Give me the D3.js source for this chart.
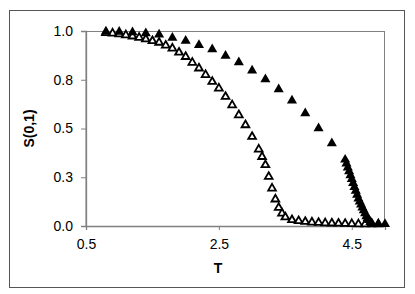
<!DOCTYPE html>
<html>
<head>
<meta charset="utf-8">
<script src="https://cdn.jsdelivr.net/npm/d3@7"></script>
<style>
  body { margin: 0; background: #fff; }
  text { font-family: "Liberation Sans", Arial, sans-serif; }
</style>
</head>
<body>
<div id="container"></div>
<script>
/**
 * DATA
 * */
const openT = [0.8, 0.9, 1.0, 1.1, 1.2, 1.3, 1.4, 1.5, 1.6, 1.7, 1.8, 1.9, 2.0, 2.1, 2.2, 2.3, 2.4,
  2.5, 2.6, 2.7, 2.8, 2.9, 3.0, 3.1, 3.15, 3.2, 3.25, 3.3, 3.35, 3.4, 3.45, 3.5,
  3.6, 3.7, 3.8, 3.9, 4.0, 4.1, 4.2, 4.3, 4.4, 4.5, 4.6, 4.7, 4.8, 4.9];
const openS = [0.99, 0.988, 0.984, 0.979, 0.973, 0.966, 0.958, 0.949, 0.941, 0.926, 0.911, 0.89, 0.868, 0.838, 0.809, 0.775, 0.74,
  0.706, 0.663, 0.62, 0.569, 0.518, 0.458, 0.393, 0.355, 0.313, 0.253, 0.193, 0.137, 0.094, 0.065, 0.045,
  0.031, 0.026, 0.022, 0.019, 0.017, 0.015, 0.014, 0.013, 0.012, 0.011, 0.01, 0.01, 0.01, 0.01];

const solidT = [0.8, 1.0, 1.2, 1.4, 1.6, 1.8, 2.0, 2.2, 2.4, 2.6, 2.8, 3.0, 3.2, 3.4, 3.6, 3.8, 4.0, 4.2,
  4.40, 4.42, 4.44, 4.46, 4.48, 4.50, 4.52, 4.54, 4.56, 4.58, 4.60, 4.62, 4.64, 4.66, 4.68, 4.70,
  4.72, 4.74, 4.76, 4.78, 4.80, 4.9, 5.0];
const solidS = [0.997, 0.996, 0.993, 0.988, 0.982, 0.965, 0.95, 0.928, 0.906, 0.873, 0.839, 0.797, 0.752, 0.701, 0.643, 0.578, 0.501, 0.424,
  0.34, 0.32, 0.30, 0.28, 0.26, 0.24, 0.22, 0.20, 0.18, 0.16, 0.14, 0.125, 0.11, 0.095, 0.08, 0.065,
  0.05, 0.04, 0.03, 0.02, 0.015, 0.01, 0.01];

const xTicks = [0.5, 2.5, 4.5];
const yTicks = [0, 0.25, 0.5, 0.75, 1.0];

/**
 * LAYOUT
 * */
const width = 415, height = 294,
  margin = { top: 31, bottom: 68, left: 86, right: 30 };

const svg = d3.select("#container")
  .append("svg")
  .attr("width", width)
  .attr("height", height);

// outer frame
svg.append("rect")
  .attr("x", 9.5).attr("y", 10.5)
  .attr("width", 395).attr("height", 277)
  .attr("fill", "none")
  .attr("stroke", "#555")
  .attr("stroke-width", 1);

const xScale = d3.scaleLinear()
  .domain([0.5, 5.0])
  .range([margin.left, width - margin.right]);

const yScale = d3.scaleLinear()
  .domain([0, 1])
  .range([height - margin.bottom, margin.top]);

// plot area border (top/right)
svg.append("rect")
  .attr("x", xScale(0.5)).attr("y", yScale(1) + 0.5)
  .attr("width", xScale(5.0) - xScale(0.5) - 0.5)
  .attr("height", yScale(0) - yScale(1))
  .attr("fill", "none")
  .attr("stroke", "#808080");

const xAxis = svg.append("g")
  .attr("transform", `translate(0, ${yScale(0)})`)
  .call(d3.axisBottom(xScale).tickValues(xTicks).tickFormat(d3.format(".1f")).tickSize(4).tickPadding(9));

const yAxis = svg.append("g")
  .attr("transform", `translate(${xScale(0.5)}, 0)`)
  .call(d3.axisLeft(yScale).tickValues(yTicks).tickFormat(d => d3.format(".1f")(d + 1e-9)).tickSize(5).tickPadding(8));

[xAxis, yAxis].forEach(g => {
  g.select(".domain").attr("stroke", "#808080").attr("stroke-width", 1.3);
  g.selectAll(".tick line").attr("stroke", "#808080");
  g.selectAll(".tick text")
    .attr("fill", "#000")
    .style("font-size", "14px")
    .style("font-family", "'Liberation Sans', Arial, sans-serif");
});

// axis titles
svg.append("text")
  .attr("x", 218).attr("y", 273)
  .attr("text-anchor", "middle")
  .style("font-size", "14px").style("font-weight", "bold")
  .text("T");

svg.append("text")
  .attr("transform", `translate(34, ${(yScale(0) + yScale(1)) / 2}) rotate(-90)`)
  .attr("text-anchor", "middle")
  .style("font-size", "14px").style("font-weight", "bold")
  .text("S(0,1)");

// series
const openSym = d3.symbol().type(d3.symbolTriangle).size(26);
const solidSym = d3.symbol().type(d3.symbolTriangle).size(44);

svg.selectAll("path.open")
  .data(openT.map((t, i) => [t, openS[i]]))
  .join("path")
  .attr("class", "open")
  .attr("d", openSym)
  .attr("transform", d => `translate(${xScale(d[0])}, ${yScale(d[1])})`)
  .attr("fill", "#fff")
  .attr("stroke", "#000")
  .attr("stroke-width", 1.8);

svg.selectAll("path.solid")
  .data(solidT.map((t, i) => [t, solidS[i]]))
  .join("path")
  .attr("class", "solid")
  .attr("d", solidSym)
  .attr("transform", d => `translate(${xScale(d[0])}, ${yScale(d[1])})`)
  .attr("fill", "#000");
</script>
</body>
</html>
